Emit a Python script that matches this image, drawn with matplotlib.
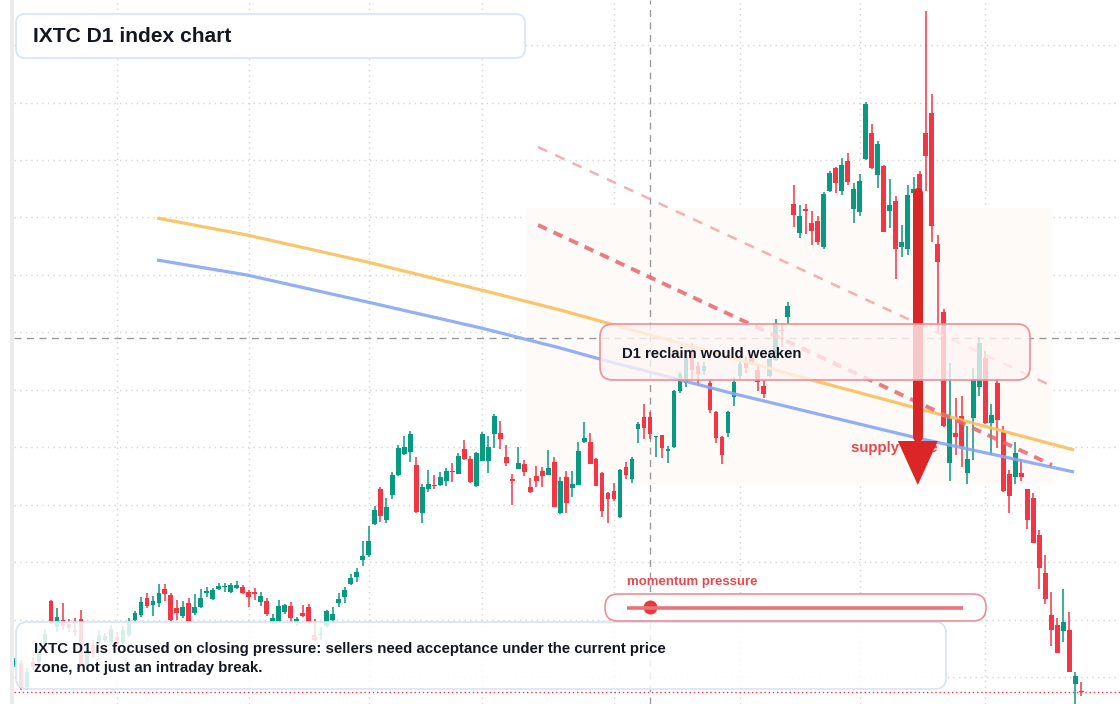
import numpy as np
import matplotlib.pyplot as plt
from matplotlib.patches import FancyBboxPatch, Rectangle, Polygon, Circle

plt.rcParams['font.family'] = ['Liberation Sans', 'DejaVu Sans']

# IXTC daily candles (index points), oldest first
opens = [335, 337, 313, 338, 338, 356, 399, 373, 380, 376,
         370, 381, 334, 355, 357, 360, 358, 363, 358, 365,
         380, 385, 402, 395, 397, 411, 405, 392, 384, 397,
         387, 393, 407, 401, 411, 413, 408, 412, 413, 408,
         408, 398, 399, 378, 378, 388, 394, 378, 387, 393,
         365, 365, 374, 380, 397, 403, 416, 423, 440, 445,
         476, 511, 480, 505, 525, 546, 548, 535, 487, 511,
         515, 515, 519, 529, 526, 551, 541, 514, 539, 539,
         566, 567, 543, 521, 531, 536, 513, 524, 529, 525,
         538, 487, 523, 512, 515, 558, 558, 541, 527, 507,
         509, 483, 533, 521, 571, 583, 583, 563, 565, 549,
         553, 609, 617, 643, 634, 629, 617, 588, 563, 567,
         603, 624, 638, 642, 630, 614, 624, 640, 670, 683,
         796, 767, 791, 777, 779, 753, 809, 832, 809, 839,
         791, 788, 841, 867, 825, 834, 789, 799, 753, 751,
         807, 826, 867, 887, 756, 688, 537, 567, 584, 527,
         582, 613, 642, 577, 617, 568, 526, 523, 527, 511,
         502, 465, 427, 385, 375, 369, 370, 316, 309]
highs = [342, 340, 332, 343, 355, 371, 400, 392, 397, 381,
         382, 390, 352, 360, 370, 367, 375, 368, 374, 382,
         389, 403, 407, 404, 416, 416, 407, 400, 399, 402,
         406, 411, 413, 412, 417, 417, 417, 419, 415, 410,
         412, 408, 402, 386, 400, 396, 398, 383, 395, 396,
         381, 373, 390, 393, 407, 413, 426, 432, 459, 474,
         494, 513, 502, 528, 555, 564, 569, 543, 516, 530,
         525, 528, 532, 537, 547, 560, 544, 548, 568, 564,
         586, 579, 555, 526, 553, 540, 522, 534, 533, 550,
         543, 523, 529, 529, 558, 578, 567, 542, 528, 508,
         517, 531, 538, 543, 578, 596, 588, 564, 565, 554,
         610, 628, 650, 657, 638, 638, 620, 589, 564, 589,
         623, 642, 643, 645, 635, 620, 643, 681, 677, 698,
         815, 795, 796, 789, 784, 808, 829, 833, 842, 847,
         817, 826, 898, 876, 859, 835, 821, 804, 775, 815,
         823, 829, 989, 906, 765, 691, 637, 602, 604, 574,
         632, 663, 649, 596, 621, 574, 530, 558, 541, 511,
         507, 470, 445, 408, 382, 411, 388, 328, 318]
lows = [333, 310, 310, 330, 336, 354, 376, 368, 370, 368,
        364, 332, 332, 343, 354, 358, 355, 354, 355, 363,
        378, 383, 392, 384, 393, 399, 379, 380, 382, 378,
        385, 392, 403, 400, 410, 408, 407, 411, 406, 393,
        400, 394, 384, 376, 377, 386, 378, 374, 383, 376,
        359, 360, 372, 378, 393, 397, 415, 418, 434, 443,
        475, 478, 477, 501, 524, 545, 538, 487, 477, 508,
        511, 514, 514, 518, 526, 540, 517, 513, 539, 527,
        552, 551, 534, 495, 531, 524, 507, 513, 513, 525,
        493, 486, 487, 503, 515, 557, 536, 514, 483, 477,
        499, 482, 521, 517, 557, 561, 561, 543, 542, 537,
        552, 607, 613, 620, 615, 625, 587, 557, 536, 563,
        594, 621, 627, 635, 609, 602, 623, 639, 653, 676,
        773, 762, 766, 755, 755, 751, 808, 807, 805, 815,
        777, 784, 840, 831, 812, 768, 772, 721, 743, 745,
        790, 800, 809, 758, 667, 573, 519, 545, 533, 516,
        540, 604, 576, 545, 552, 508, 487, 516, 519, 471,
        457, 411, 396, 354, 347, 358, 328, 296, 304]
closes = [340, 312, 328, 333, 347, 366, 379, 383, 374, 372,
          368, 335, 348, 346, 365, 364, 371, 357, 370, 378,
          387, 398, 394, 399, 407, 406, 380, 387, 393, 379,
          393, 402, 409, 410, 414, 414, 415, 415, 407, 403,
          406, 404, 386, 382, 394, 395, 382, 381, 384, 378,
          360, 366, 389, 386, 401, 410, 422, 428, 444, 459,
          490, 484, 493, 525, 552, 553, 566, 488, 513, 516,
          514, 523, 529, 528, 544, 541, 518, 547, 566, 553,
          584, 561, 537, 519, 537, 528, 508, 519, 524, 532,
          493, 519, 497, 516, 549, 562, 536, 514, 489, 501,
          501, 530, 525, 541, 576, 572, 566, 564, 552, 551,
          609, 626, 643, 630, 626, 634, 590, 562, 545, 588,
          618, 636, 632, 638, 618, 606, 641, 677, 669, 694,
          785, 784, 789, 769, 758, 806, 827, 817, 835, 818,
          811, 819, 896, 832, 856, 768, 795, 751, 758, 805,
          811, 808, 844, 774, 738, 574, 582, 563, 553, 541,
          621, 657, 577, 585, 580, 509, 504, 547, 523, 480,
          457, 432, 401, 370, 347, 378, 328, 324, 308]

# month separators (candle index)
month_starts = [17, 39, 59, 78, 100, 121, 141, 162]

# moving averages drawn on the chart (index, price)
ma_slow_x = [23.7, 38.7, 58.8, 77.8, 91.0, 133.0, 151.7, 176.8]
ma_slow_y = [782, 765, 738, 710, 690, 620, 590, 550]
ma_fast_x = [23.7, 38.7, 58.8, 77.8, 91.0, 98.2, 119.5, 150.6, 176.8]
ma_fast_y = [740, 725, 698, 672, 652, 640, 607, 562, 528]

# descending trendlines
trend_x = [87.3, 173.1]
trend_upper = [853, 614]
trend_lower = [775, 535]

# supply zone and sell arrow
zone_x = (85.3, 173.1)
zone_y = (516, 792)
arrow_x = 150.7
arrow_top, arrow_base, arrow_tip = 807, 559, 515

cross_x, cross_y = 106, 662
momentum = 0.07

GREEN = '#089981'
RED = '#f23645'
INK = '#131722'

fig = plt.figure(figsize=(11.2, 7.04), dpi=100)
ax = fig.add_axes([13.5 / 1120, 0, 1 - 13.5 / 1120, 1])
ax.set_xlim(-0.27, 184.46)
ax.set_ylim(296, 1000)
for s in ax.spines.values():
    s.set_visible(False)
ax.set_xticks([])
ax.set_yticks([])

# grid
for gy in np.arange(323, 1000, 57.45):
    ax.axhline(gy, color='#d4d4d4', lw=1, ls=(0, (1, 3)), zorder=0)
for gx in month_starts:
    ax.axvline(gx, color='#d4d4d4', lw=1, ls=(0, (1, 3)), zorder=0)

# supply zone
ax.add_patch(Rectangle((zone_x[0], zone_y[0]), zone_x[1] - zone_x[0], zone_y[1] - zone_y[0],
                       facecolor='#fdfaf7', edgecolor='none', zorder=0.5))

# crosshair
ax.axhline(cross_y, color='#9a9a9a', lw=1, ls=(0, (5, 4)), zorder=1)
ax.axvline(cross_x, color='#9a9a9a', lw=1, ls=(0, (5, 4)), zorder=1)

# candles
idx = np.arange(len(opens))
o = np.array(opens, float)
c = np.array(closes, float)
cols = [GREEN if cc >= oo else RED for oo, cc in zip(o, c)]
ax.vlines(idx, lows, highs, colors=cols, lw=1.1, zorder=2)
body_lo = np.minimum(o, c)
body_h = np.maximum(np.abs(c - o), 1.2)
ax.bar(idx, body_h, bottom=body_lo, width=0.79, color=cols, zorder=3, linewidth=0)

# last price line
ax.axhline(closes[-1], color=RED, lw=1, ls=(0, (1, 2)), zorder=1.5)

# moving averages and trendlines
ax.plot(ma_slow_x, ma_slow_y, color='#fbbf5c', lw=2.3, alpha=0.9, zorder=4,
        solid_capstyle='butt')
ax.plot(ma_fast_x, ma_fast_y, color='#87a6f4', lw=2.3, alpha=0.9, zorder=4,
        solid_capstyle='butt')
ax.plot(trend_x, trend_upper, color='#f4a3a7', lw=1.8, ls=(0, (4, 3.6)), alpha=0.85, zorder=4)
ax.plot(trend_x, trend_lower, color='#e9646b', lw=2.8, ls=(0, (2.5, 1.9)), alpha=0.85, zorder=4)

# supply label + arrow (arrow drawn over the label)
ax.text(139.55, 552, 'supply zone', color='#e5484d', fontsize=10.8, fontweight='bold',
        va='center', ha='left', zorder=5)
ax.plot([arrow_x, arrow_x], [arrow_top, arrow_base + 4], color='#dc2626', lw=7.2,
        solid_capstyle='round', zorder=6)
hw = 3.34
ax.add_patch(Polygon([(arrow_x - hw, arrow_base), (arrow_x + hw, arrow_base), (arrow_x, arrow_tip)],
                     closed=True, facecolor='#dc2626', edgecolor='none', zorder=6))

# overlay in pixel coordinates for the panels
ov = fig.add_axes([0, 0, 1, 1])
ov.set_xlim(0, 1120)
ov.set_ylim(704, 0)
ov.axis('off')

ov.add_patch(Rectangle((10, 0), 3.5, 704, facecolor='#ebebeb', edgecolor='none'))

def panel(x0, y0, x1, y1, r, fc, ec, alpha=1.0, lw=1.2):
    ov.add_patch(FancyBboxPatch((x0, y0), x1 - x0, y1 - y0,
                                boxstyle=f'round,pad=0,rounding_size={r}',
                                facecolor=fc, edgecolor='none', alpha=alpha))
    ov.add_patch(FancyBboxPatch((x0, y0), x1 - x0, y1 - y0,
                                boxstyle=f'round,pad=0,rounding_size={r}',
                                facecolor='none', edgecolor=ec, lw=lw))

panel(16, 14, 525, 58, 9, 'white', '#d5e3fa')
ov.text(33, 37, 'IXTC D1 index chart', fontsize=15.1, fontweight='bold', color=INK,
        va='center', ha='left')

panel(16, 622, 946, 689, 11, 'white', '#d5e3fa', alpha=0.84)
ov.text(34, 658.5, 'IXTC D1 is focused on closing pressure: sellers need acceptance under the current price\n'
        'zone, not just an intraday break.', fontsize=10.85, fontweight='bold', color=INK,
        va='center', ha='left', linespacing=1.38)

panel(600, 324, 1030, 380, 13, '#fff5f5', '#ef8f94', alpha=0.78)
ov.text(622, 353.5, 'D1 reclaim would weaken', fontsize=10.75, fontweight='bold', color=INK,
        va='center', ha='left')

ov.text(627, 582, 'momentum pressure', fontsize=9.5, fontweight='bold', color='#e5484d',
        va='center', ha='left')
panel(605, 594, 986, 621, 13, 'white', '#ef8f94')
track0, track1 = 627, 963
ov.plot([track0, track1], [607.5, 607.5], color='#ea7379', lw=2.6, solid_capstyle='butt')
ov.add_patch(Circle((track0 + momentum * (track1 - track0), 607.5), 7, facecolor='#e5383f',
                    edgecolor='none'))

fig.savefig('out.png', dpi=100)
